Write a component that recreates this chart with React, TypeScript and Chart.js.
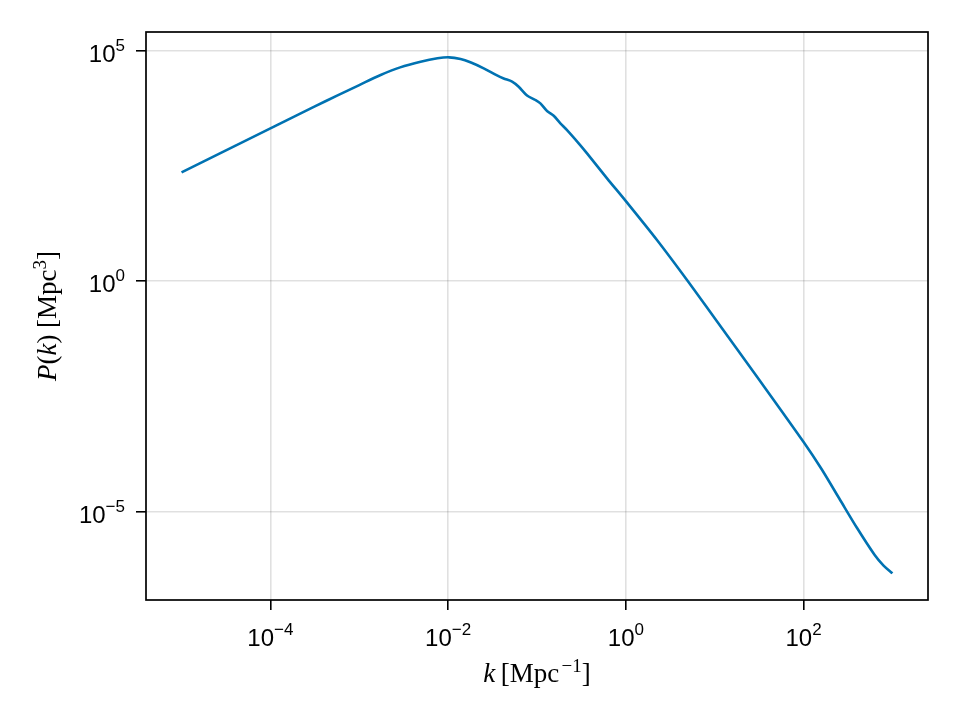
import React, { useEffect, useRef } from "react";
import { Chart, registerables } from "chart.js";

Chart.register(...registerables);

// log10 k [Mpc^-1]
const logK = [
  -5.0, -4.5, -4.0, -3.5, -3.25, -3.0, -2.76, -2.54, -2.31, -2.12, -1.99,
  -1.86, -1.75, -1.6, -1.45, -1.375, -1.28, -1.206, -1.112, -1.018, -0.962,
  -0.887, -0.812, -0.737, -0.662, -0.531, -0.437, -0.212, 0.0, 0.35, 0.688,
  1.0, 1.5, 2.0, 2.2, 2.4, 2.6, 2.8, 2.9, 3.0,
];

// log10 P(k) [Mpc^3], same points
const logP = [
  2.355, 2.83, 3.309, 3.785, 4.017, 4.247, 4.465, 4.63, 4.753, 4.827, 4.848,
  4.811, 4.74, 4.61, 4.455, 4.39, 4.32, 4.21, 4.02, 3.923, 3.85, 3.684, 3.58,
  3.418, 3.27, 2.984, 2.767, 2.225, 1.73, 0.888, 0.021, -0.809, -2.14, -3.49,
  -4.07, -4.71, -5.35, -5.94, -6.17, -6.337,
];

// decade ticks (exponents)
const xTickExps = [-4, -2, 0, 2];
const yTickExps = [-5, 0, 5];

// axis limits, in decades
const xLimits = [-5.4, 3.4];
const yLimits = [-6.915, 5.397];

const SANS = "'Liberation Sans', Arial, sans-serif";
const SERIF = "'Liberation Serif', 'Times New Roman', serif";

type Run = { text: string; font: string; rise?: number };

const expText = (e: number) => (e < 0 ? "\u2212" + Math.abs(e) : String(e));

// draw a row of text pieces with different fonts (for superscripts, italics)
function drawRuns(
  ctx: CanvasRenderingContext2D,
  runs: Run[],
  x: number,
  y: number,
  align: "center" | "right"
) {
  const widths = runs.map((r) => {
    ctx.font = r.font;
    return ctx.measureText(r.text).width;
  });
  const total = widths.reduce((a, b) => a + b, 0);
  let cx = align === "center" ? x - total / 2 : x - total;
  runs.forEach((r, i) => {
    ctx.font = r.font;
    ctx.fillText(r.text, cx, y - (r.rise || 0));
    cx += widths[i];
  });
}

const tickRuns = (e: number): Run[] => [
  { text: "10", font: `24px ${SANS}` },
  { text: expText(e), font: `17px ${SANS}`, rise: 11 },
];

// frame, tick labels and axis titles, drawn the way Makie lays them out
const axesPlugin = {
  id: "makieAxes",
  afterDraw: (chart: Chart) => {
    const { ctx, chartArea: a, scales } = chart;
    ctx.save();
    ctx.strokeStyle = "#000";
    ctx.lineWidth = 1.7;
    ctx.strokeRect(a.left, a.top, a.right - a.left, a.bottom - a.top);

    ctx.fillStyle = "#000";
    ctx.textAlign = "left";
    ctx.textBaseline = "alphabetic";

    xTickExps.forEach((e) => {
      const px = scales.x.getPixelForValue(Math.pow(10, e));
      drawRuns(ctx, tickRuns(e), px, a.bottom + 46, "center");
    });
    yTickExps.forEach((e) => {
      const py = scales.y.getPixelForValue(Math.pow(10, e));
      drawRuns(ctx, tickRuns(e), a.left - 21, py + 11.5, "right");
    });

    // x title: k [Mpc^-1]
    drawRuns(
      ctx,
      [
        { text: "k", font: `italic 27px ${SERIF}` },
        { text: "\u2009[Mpc\u200a", font: `27px ${SERIF}` },
        { text: "\u22121", font: `19px ${SERIF}`, rise: 10.5 },
        { text: "]", font: `27px ${SERIF}` },
      ],
      (a.left + a.right) / 2,
      682,
      "center"
    );

    // y title: P(k) [Mpc^3]
    ctx.translate(56, (a.top + a.bottom) / 2);
    ctx.rotate(-Math.PI / 2);
    drawRuns(
      ctx,
      [
        { text: "P", font: `italic 27px ${SERIF}` },
        { text: "(", font: `27px ${SERIF}` },
        { text: "k", font: `italic 27px ${SERIF}` },
        { text: ") [Mpc", font: `27px ${SERIF}` },
        { text: "3", font: `19px ${SERIF}`, rise: 10.5 },
        { text: "]", font: `27px ${SERIF}` },
      ],
      0,
      0,
      "center"
    );
    ctx.restore();
  },
};

const gridStyle = {
  color: "rgba(0,0,0,0.12)",
  lineWidth: 1.6,
  drawTicks: true,
  tickLength: 10,
  tickColor: "#000",
  tickWidth: 1.6,
};

export default function App() {
  const canvasRef = useRef<HTMLCanvasElement | null>(null);

  useEffect(() => {
    const ctx = canvasRef.current?.getContext("2d");
    if (!ctx) return;

    const chart = new Chart(ctx, {
      type: "line",
      data: {
        datasets: [
          {
            label: "P(k)",
            data: logK.map((k, i) => ({
              x: Math.pow(10, k),
              y: Math.pow(10, logP[i]),
            })),
            borderColor: "rgb(0,114,178)",
            borderWidth: 2.6,
            pointRadius: 0,
            fill: false,
            tension: 0.3,
          },
        ],
      },
      options: {
        animation: false,
        responsive: true,
        maintainAspectRatio: false,
        layout: { padding: { top: 32, right: 32, left: 0, bottom: 0 } },
        plugins: {
          legend: { display: false },
          tooltip: { enabled: false },
        },
        scales: {
          x: {
            type: "logarithmic",
            position: "bottom",
            bounds: "data",
            min: Math.pow(10, xLimits[0]),
            max: Math.pow(10, xLimits[1]),
            grid: gridStyle,
            border: { display: false },
            ticks: { display: false },
            afterBuildTicks: (scale: any) => {
              scale.ticks = xTickExps.map((e) => ({ value: Math.pow(10, e) }));
            },
            afterFit: (scale: any) => {
              scale.height = 120;
            },
          },
          y: {
            type: "logarithmic",
            position: "left",
            bounds: "data",
            min: Math.pow(10, yLimits[0]),
            max: Math.pow(10, yLimits[1]),
            grid: gridStyle,
            border: { display: false },
            ticks: { display: false },
            afterBuildTicks: (scale: any) => {
              scale.ticks = yTickExps.map((e) => ({ value: Math.pow(10, e) }));
            },
            afterFit: (scale: any) => {
              scale.width = 146;
            },
          },
        },
      },
      plugins: [axesPlugin],
    });

    return () => chart.destroy();
  }, []);

  return (
    <div
      style={{
        position: "absolute",
        left: 0,
        top: 0,
        width: 960,
        height: 720,
        background: "#fff",
      }}
    >
      <canvas ref={canvasRef} />
    </div>
  );
}
